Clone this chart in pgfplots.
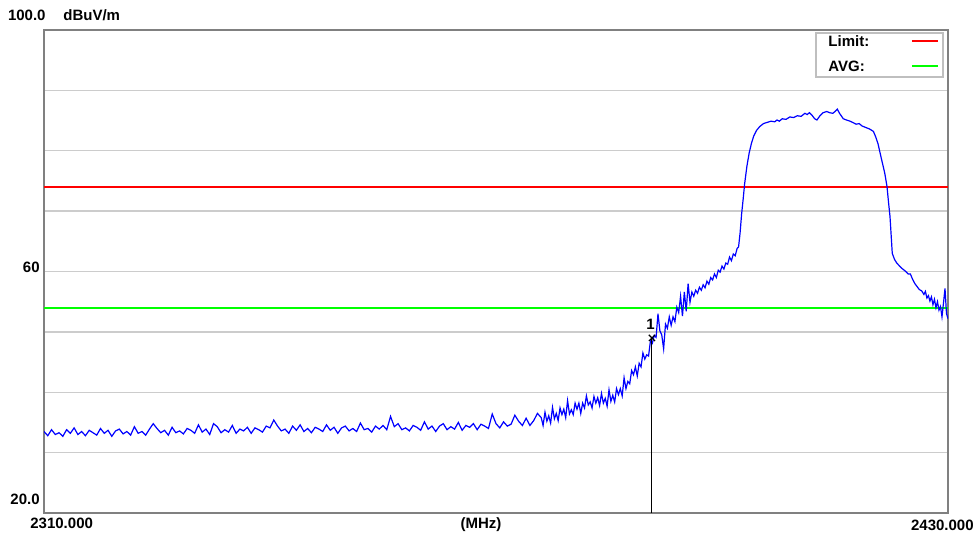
\documentclass[border=0pt]{standalone}
\usepackage{fontspec}
\setmainfont{Liberation Sans}
\usepackage{pgfplots}
\pgfplotsset{compat=1.18}
\usepackage{pgfplotstable}

% spectrum trace, MHz / dBuV/m
\pgfplotstableread{
f y
2310.0 33.5
2310.5 32.8
2311.0 33.8
2311.5 33.0
2312.0 33.3
2312.5 32.7
2313.0 33.8
2313.5 33.2
2314.0 34.1
2314.5 33.0
2315.0 33.5
2315.5 32.8
2316.0 33.7
2316.5 33.3
2317.0 32.9
2317.5 34.0
2318.0 33.2
2318.5 33.7
2319.0 32.7
2319.5 33.6
2320.0 33.9
2320.5 33.1
2321.0 33.5
2321.5 32.9
2322.0 34.3
2322.5 33.2
2323.0 33.5
2323.5 32.9
2324.0 33.9
2324.5 34.8
2325.0 34.0
2325.5 33.3
2326.0 33.7
2326.5 32.9
2327.0 34.2
2327.5 33.3
2328.0 33.6
2328.5 33.1
2329.0 34.0
2329.5 33.7
2330.0 33.2
2330.5 34.6
2331.0 33.4
2331.5 33.9
2332.0 33.0
2332.5 34.8
2333.0 34.3
2333.5 33.3
2334.0 33.8
2334.5 33.4
2335.0 34.5
2335.5 33.2
2336.0 33.9
2336.5 33.6
2337.0 34.2
2337.5 33.2
2338.0 34.1
2338.5 33.8
2339.0 33.4
2339.5 34.4
2340.0 34.1
2340.5 35.4
2341.0 34.4
2341.5 33.6
2342.0 33.9
2342.5 33.2
2343.0 34.4
2343.5 33.7
2344.0 34.6
2344.5 33.5
2345.0 34.0
2345.5 33.3
2346.0 34.2
2346.5 33.9
2347.0 33.5
2347.5 34.6
2348.0 33.7
2348.5 34.2
2349.0 33.2
2349.5 34.1
2350.0 34.4
2350.5 33.6
2351.0 34.0
2351.5 33.5
2352.0 34.9
2352.5 33.8
2353.0 34.0
2353.5 33.4
2354.0 34.4
2354.5 33.9
2355.0 34.5
2355.5 33.8
2356.0 36.0
2356.5 34.3
2357.0 34.8
2357.5 33.8
2358.0 34.1
2358.5 33.6
2359.0 34.5
2359.5 34.2
2360.0 33.7
2360.5 35.1
2361.0 33.9
2361.5 34.4
2362.0 33.5
2362.5 34.4
2363.0 34.8
2363.5 33.8
2364.0 34.3
2364.5 33.9
2365.0 35.0
2365.5 33.7
2366.0 34.5
2366.5 34.2
2367.0 34.8
2367.5 33.8
2368.0 34.7
2368.5 34.4
2369.0 34.0
2369.5 36.4
2370.0 34.8
2370.5 34.1
2371.0 35.1
2371.5 34.4
2372.0 34.7
2372.5 36.2
2373.0 35.2
2373.5 34.5
2374.0 35.7
2374.5 34.5
2375.0 35.3
2375.5 36.5
2376.00 35.8
2376.25 34.5
2376.50 36.7
2376.75 35.2
2377.00 36.1
2377.25 34.9
2377.50 37.5
2377.75 35.6
2378.00 36.5
2378.25 35.3
2378.50 37.4
2378.75 36.3
2379.00 37.2
2379.25 35.8
2379.50 38.6
2379.75 36.4
2380.00 37.1
2380.25 36.3
2380.50 38.2
2380.75 37.2
2381.00 38.2
2381.25 36.5
2381.50 38.2
2381.75 37.4
2382.00 39.4
2382.25 37.9
2382.50 38.4
2382.75 37.4
2383.00 39.3
2383.25 38.2
2383.50 39.1
2383.75 37.8
2384.00 39.8
2384.25 38.2
2384.50 39.0
2384.75 37.7
2385.00 40.4
2385.25 38.5
2385.50 39.5
2385.75 38.4
2386.00 40.6
2386.25 39.6
2386.50 40.6
2386.75 39.4
2387.00 42.4
2387.25 40.6
2387.50 41.8
2387.75 41.4
2388.00 43.6
2388.25 42.9
2388.50 44.2
2388.75 42.7
2389.00 44.8
2389.25 44.2
2389.50 46.5
2389.75 45.5
2390.00 46.2
2390.25 46.0
2390.50 48.5
2390.75 48.1
2391.00 49.4
2391.25 49.1
2391.50 53.0
2391.75 50.2
2392.00 49.5
2392.25 47.2
2392.50 51.3
2392.75 50.6
2393.00 52.5
2393.25 51.1
2393.50 52.5
2393.75 51.7
2394.00 54.1
2394.25 53.2
2394.50 55.9
2394.75 52.6
2395.00 56.6
2395.25 53.4
2395.50 58.0
2395.75 54.9
2396.00 56.6
2396.25 55.9
2396.50 56.9
2396.75 56.4
2397.00 57.4
2397.25 56.9
2397.50 57.8
2397.75 57.3
2398.00 58.4
2398.25 57.9
2398.50 59.0
2398.75 58.6
2399.00 59.6
2399.25 59.0
2399.50 60.2
2399.75 59.9
2400.00 60.9
2400.25 60.4
2400.50 61.4
2400.75 61.2
2401.00 62.4
2401.25 61.8
2401.50 62.9
2401.75 62.6
2402.00 63.8
2402.20 64.1
2402.40 66.4
2402.60 69.5
2402.80 71.9
2403.00 74.5
2403.30 77.4
2403.60 79.6
2403.90 81.2
2404.20 82.4
2404.60 83.4
2405.00 84.0
2405.50 84.5
2406.00 84.7
2406.50 84.9
2407.00 84.8
2407.30 85.1
2407.60 84.9
2408.00 85.3
2408.50 85.2
2409.00 85.6
2409.50 85.5
2410.00 85.8
2410.50 85.7
2411.00 86.2
2411.30 86.0
2411.60 86.3
2412.00 85.8
2412.30 85.3
2412.60 85.1
2413.00 85.8
2413.40 86.3
2413.90 86.5
2414.30 86.3
2414.70 86.2
2415.00 86.5
2415.30 86.9
2415.60 86.2
2416.10 85.3
2416.50 85.1
2417.00 84.9
2417.50 84.6
2417.80 84.4
2418.20 84.5
2418.60 84.1
2419.00 83.9
2419.60 83.6
2420.10 83.2
2420.40 82.3
2420.70 81.2
2421.10 79.0
2421.60 76.3
2421.90 74.1
2422.10 71.5
2422.30 69.1
2422.60 63.0
2422.90 62.0
2423.20 61.4
2423.50 61.0
2423.80 60.6
2424.10 60.3
2424.40 60.0
2424.70 59.6
2425.00 59.6
2425.30 58.7
2425.60 58.0
2425.90 57.5
2426.20 57.0
2426.50 56.8
2426.80 56.2
2427.00 56.7
2427.20 55.6
2427.40 56.0
2427.60 55.1
2427.80 55.8
2428.00 54.5
2428.20 55.4
2428.40 54.0
2428.60 55.0
2428.80 53.6
2429.00 54.2
2429.20 52.5
2429.40 54.8
2429.60 57.2
2429.80 53.0
2430.00 52.2
}\trace

\begin{document}
\begin{tikzpicture}
\begin{axis}[
    scale only axis,
    width=452pt, height=241.5pt,
    xmin=2310, xmax=2430,
    ymin=20, ymax=100,
    xtick=\empty,
    ytick={30,40,50,60,70,80,90},
    yticklabels={},
    major tick length=0pt,
    ymajorgrids=true,
    grid style={draw=black!20, line width=0.7pt},
    axis line style={draw=black!50, line width=1.1pt},
    clip mode=individual,
    font=\fontsize{7.5}{9}\selectfont\bfseries,
]
\addplot[draw=red, line width=1pt] coordinates {(2310,74)(2430,74)};
\addplot[draw=green, line width=1pt] coordinates {(2310,54)(2430,54)};
\addplot[draw=blue, line width=0.6pt] table[x=f, y=y] {\trace};
\addplot[draw=black, line width=0.5pt] coordinates {(2390.7,20)(2390.7,49.0)};
\addplot[black, only marks, mark=x, mark size=2.2pt, mark options={line width=0.6pt}] coordinates {(2390.7,49.0)};
\node[font=\fontsize{7.5}{9}\selectfont\bfseries] at (axis cs:2390.5,51.3) {1};

% legend box
\draw[draw=black!25, line width=0.6pt, fill=white] (rel axis cs:0.854,0.9938) rectangle (rel axis cs:0.9945,0.9027);
\node[anchor=west, inner sep=0pt] at (rel axis cs:0.8673,0.9772) {Limit:};
\node[anchor=west, inner sep=0pt] at (rel axis cs:0.8673,0.9255) {AVG:};
\draw[red, line width=1pt] (rel axis cs:0.960,0.9772) -- (rel axis cs:0.989,0.9772);
\draw[green, line width=1pt] (rel axis cs:0.960,0.9255) -- (rel axis cs:0.989,0.9255);

% axis texts
\node[anchor=east, inner sep=0pt] at (rel axis cs:0.0022,1.031) {100.0};
\node[anchor=west, inner sep=0pt] at (rel axis cs:0.021,1.031) {dBuV/m};
\node[anchor=east, inner sep=0pt] at (rel axis cs:-0.0044,0.509) {60};
\node[anchor=east, inner sep=0pt] at (rel axis cs:-0.0044,0.029) {20.0};
\node[anchor=west, inner sep=0pt] at (rel axis cs:-0.0155,-0.0207) {2310.000};
\node[inner sep=0pt] at (rel axis cs:0.4834,-0.0248) {(MHz)};
\node[anchor=east, inner sep=0pt] at (rel axis cs:1.0288,-0.0248) {2430.000};
\end{axis}
\pgfresetboundingbox
\path (-22pt,-12pt) rectangle (466.5pt,256.5pt);
\end{tikzpicture}
\end{document}
